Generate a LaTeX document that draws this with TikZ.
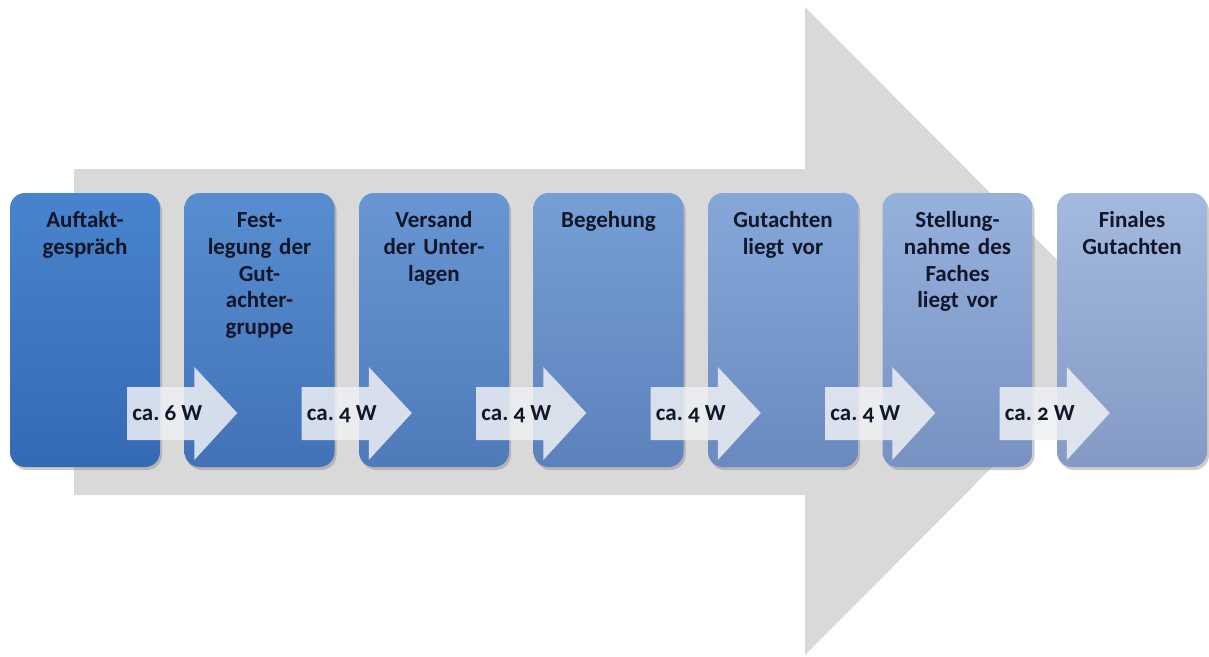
\documentclass[tikz,border=0pt]{standalone}
\usepackage{fontspec}
\setmainfont{Carlito}[Numbers=OldStyle]
\usetikzlibrary{calc,positioning,shadows}

\definecolor{bgarrow}{RGB}{217,217,217}
\definecolor{topfirst}{RGB}{72,132,205}
\definecolor{botfirst}{RGB}{52,106,180}
\definecolor{toplast}{RGB}{164,185,222}
\definecolor{botlast}{RGB}{132,154,197}
\definecolor{inktext}{RGB}{18,22,40}
\definecolor{stepfill}{RGB}{238,240,244}

\tikzset{
  stage/.style={rectangle, rounded corners=15pt, minimum width=150pt,
    minimum height=274pt, inner sep=0pt,
    drop shadow={shadow xshift=2pt, shadow yshift=-3pt, opacity=0.4}},
  stagetext/.style={text width=150pt, align=center, anchor=base, inner sep=0pt,
    font=\fontsize{23}{26.7}\selectfont\bfseries, text=inktext},
  steparrow/.style={fill=stepfill, fill opacity=0.85},
  dur/.style={anchor=base west, inner sep=0pt,
    font=\fontsize{23}{26}\selectfont\bfseries, text=inktext}
}

\frenchspacing

\begin{document}
\begin{tikzpicture}[x=1pt,y=-1pt]

    \useasboundingbox (0,0) rectangle (1209,656);

    % grosser Pfeil im Hintergrund
    \fill[bgarrow] (74,169) -- (805,169) -- (805,7) -- (1128,331)
        -- (805,655) -- (805,495) -- (74,495) -- cycle;

    % Phasen
    \foreach \txt [count=\i from 0, evaluate=\i as \k using int(\i+1)] in
        {{Auftakt-\\gespräch},
         {Fest-\\legung der\\Gut-\\achter-\\gruppe},
         {Versand\\der Unter-\\lagen},
         {Begehung},
         {Gutachten\\liegt vor},
         {Stellung-\\nahme des\\Faches\\liegt vor},
         {Finales\\Gutachten}} {
        \pgfmathtruncatemacro\pct{100-\i*100/6}
        \node[stage, top color=topfirst!\pct!toplast,
              bottom color=botfirst!\pct!botlast] (stage\k)
            at (85+174.5*\i,330) {};
        \node[stagetext] (label\k) at ($(stage\k.north)+(0,35)$) {\txt};
    }

    % Dauer zwischen den Phasen
    \foreach \w [count=\i, evaluate=\i as \j using int(\i+1)] in {6,4,4,4,4,2} {
        \fill[steparrow] ($(stage\i.east)+(-33,57)$) -- ($(stage\j.west)+(10,57)$)
            -- ($(stage\j.west)+(10,37)$) -- ($(stage\j.west)+(53,83)$)
            -- ($(stage\j.west)+(10,130)$) -- ($(stage\j.west)+(10,110)$)
            -- ($(stage\i.east)+(-33,110)$) -- cycle;
        \node[dur] (dur\i) at ($(stage\i.east)+(-28,90)$) {ca. \w\ W};
    }

\end{tikzpicture}
\end{document}
